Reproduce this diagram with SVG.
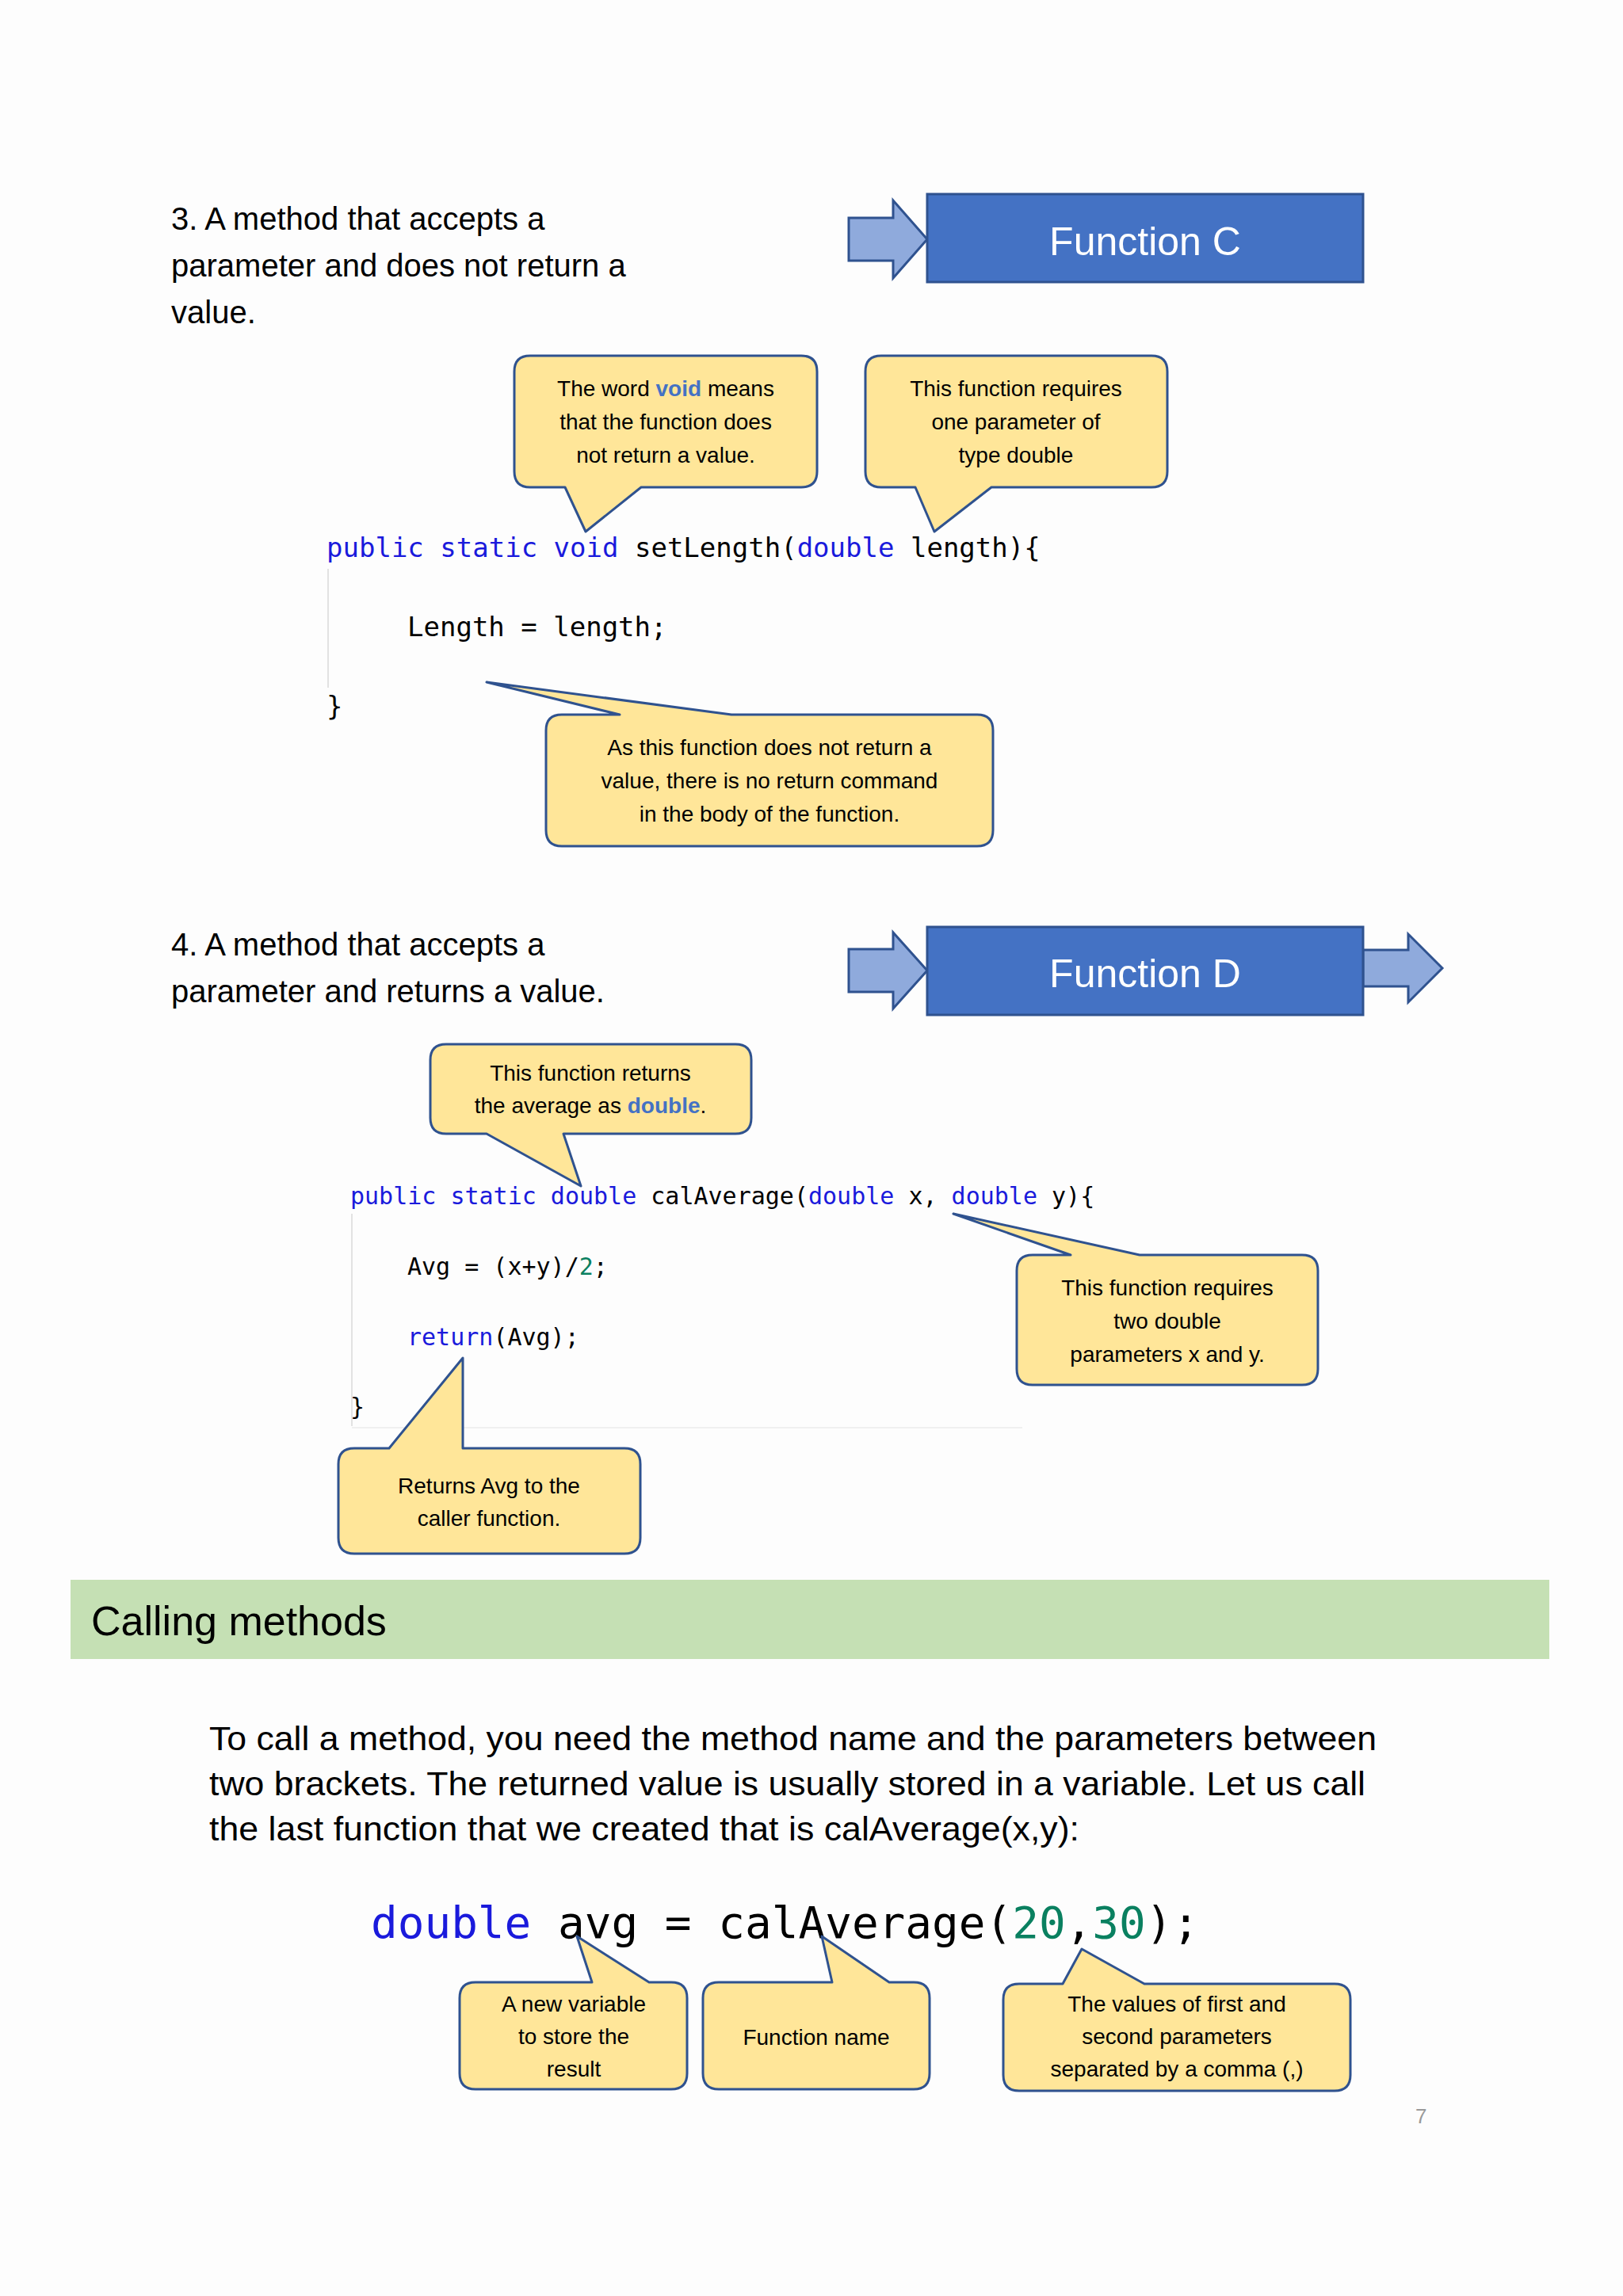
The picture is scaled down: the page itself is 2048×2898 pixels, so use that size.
<svg xmlns="http://www.w3.org/2000/svg" width="2048" height="2898" viewBox="0 0 2048 2898">
<style>
.t{font-family:"Liberation Sans",Arial,sans-serif;fill:#000}
.h{font-size:40px}
.c{font-size:28px;text-anchor:middle}
.code{font-family:"DejaVu Sans Mono","Liberation Mono",monospace;fill:#000}
.kw{fill:#1a1adc}
.num{fill:#0a8060}
.vb{fill:#4472c4;font-weight:bold}
.co{fill:#ffe699;stroke:#2f528f;stroke-width:3;stroke-linejoin:round}
.fb{fill:#4472c4;stroke:#2f528f;stroke-width:3}
.ar{fill:#8faadc;stroke:#2f528f;stroke-width:3;stroke-linejoin:miter}
.ft{font-family:"Liberation Sans",Arial,sans-serif;font-size:50px;fill:#fff;text-anchor:middle}
</style>
<rect width="2048" height="2898" fill="#fdfdfd"/>

<g id="heading3">
<text class="t h" x="216" y="290">3. A method that accepts a</text>
<text class="t h" x="216" y="349">parameter and does not return a</text>
<text class="t h" x="216" y="408">value.</text>
</g>

<g id="connectors">
<path class="ar" d="M1071 275 H1127 V253 L1170 302 L1127 351 V329 H1071 Z"/>
<path class="ar" d="M1071 1198 H1127 V1177 L1170 1225 L1127 1273 V1252 H1071 Z"/>
<path class="ar" d="M1720 1199 H1777 V1179 L1820 1222 L1777 1265 V1245 H1720 Z"/>
</g>

<g id="functionC">
<rect class="fb" x="1170" y="245" width="550" height="111"/>
<text class="ft" x="1445" y="322">Function C</text>
</g>

<g id="callout-void">
<path class="co" d="M669 449 H1011 Q1031 449 1031 469 V595 Q1031 615 1011 615 H809 L739 671 L713 615 H669 Q649 615 649 595 V469 Q649 449 669 449 Z"/>
<text class="t c" x="840" y="500">The word <tspan class="vb">void</tspan> means</text>
<text class="t c" x="840" y="542">that the function does</text>
<text class="t c" x="840" y="584">not return a value.</text>
</g>

<g id="callout-param">
<path class="co" d="M1112 449 H1453 Q1473 449 1473 469 V595 Q1473 615 1453 615 H1251 L1179 671 L1155 615 H1112 Q1092 615 1092 595 V469 Q1092 449 1112 449 Z"/>
<text class="t c" x="1282" y="500">This function requires</text>
<text class="t c" x="1282" y="542">one parameter of</text>
<text class="t c" x="1282" y="584">type double</text>
</g>

<g id="code3">
<line x1="414" y1="718" x2="414" y2="868" stroke="#e2e2e2" stroke-width="2"/>
<text class="code" font-size="34" x="412" y="703"><tspan class="kw">public static void</tspan> setLength(<tspan class="kw">double</tspan> length){</text>
<text class="code" font-size="34" x="514" y="803">Length = length;</text>
<text class="code" font-size="34" x="412" y="903">}</text>
</g>

<g id="callout-noreturn">
<path class="co" d="M709 902 H782 L614 861 L923 902 H1233 Q1253 902 1253 922 V1048 Q1253 1068 1233 1068 H709 Q689 1068 689 1048 V922 Q689 902 709 902 Z"/>
<text class="t c" x="971" y="953">As this function does not return a</text>
<text class="t c" x="971" y="995">value, there is no return command</text>
<text class="t c" x="971" y="1037">in the body of the function.</text>
</g>

<g id="heading4">
<text class="t h" x="216" y="1206">4. A method that accepts a</text>
<text class="t h" x="216" y="1265">parameter and returns a value.</text>
</g>

<g id="functionD">
<rect class="fb" x="1170" y="1170" width="550" height="111"/>
<text class="ft" x="1445" y="1246">Function D</text>
</g>

<g id="callout-returns-double">
<path class="co" d="M563 1318 H928 Q948 1318 948 1338 V1411 Q948 1431 928 1431 H711 L733 1497 L614 1431 H563 Q543 1431 543 1411 V1338 Q543 1318 563 1318 Z"/>
<text class="t c" x="745" y="1364">This function returns</text>
<text class="t c" x="745" y="1405">the average as <tspan class="vb">double</tspan>.</text>
</g>

<g id="code4">
<line x1="444" y1="1532" x2="444" y2="1800" stroke="#e2e2e2" stroke-width="2"/>
<line x1="444" y1="1802" x2="1290" y2="1802" stroke="#f0f0f0" stroke-width="2"/>
<text class="code" font-size="30" x="442" y="1520"><tspan class="kw">public static double</tspan> calAverage(<tspan class="kw">double</tspan> x, <tspan class="kw">double</tspan> y){</text>
<text class="code" font-size="30" x="514" y="1609">Avg = (x+y)/<tspan class="num">2</tspan>;</text>
<text class="code" font-size="30" x="514" y="1698"><tspan class="kw">return</tspan>(Avg);</text>
<text class="code" font-size="30" x="442" y="1786">}</text>
</g>

<g id="callout-two-params">
<path class="co" d="M1303 1584 H1351 L1203 1532 L1438 1584 H1643 Q1663 1584 1663 1604 V1728 Q1663 1748 1643 1748 H1303 Q1283 1748 1283 1728 V1604 Q1283 1584 1303 1584 Z"/>
<text class="t c" x="1473" y="1635">This function requires</text>
<text class="t c" x="1473" y="1677">two double</text>
<text class="t c" x="1473" y="1719">parameters x and y.</text>
</g>

<g id="callout-return-avg">
<path class="co" d="M447 1828 H491 L584 1714 V1828 H788 Q808 1828 808 1848 V1941 Q808 1961 788 1961 H447 Q427 1961 427 1941 V1848 Q427 1828 447 1828 Z"/>
<text class="t c" x="617" y="1885">Returns Avg to the</text>
<text class="t c" x="617" y="1926">caller function.</text>
</g>

<g id="calling-header">
<rect x="89" y="1994" width="1866" height="100" fill="#c5e0b4"/>
<text class="t" font-size="52" x="115" y="2064">Calling methods</text>
</g>

<g id="paragraph">
<text class="t" font-size="42" x="264" y="2209" textLength="1473" lengthAdjust="spacingAndGlyphs">To call a method, you need the method name and the parameters between</text>
<text class="t" font-size="42" x="264" y="2266" textLength="1459" lengthAdjust="spacingAndGlyphs">two brackets.  The returned value is usually stored in a variable.  Let us call</text>
<text class="t" font-size="42" x="264" y="2323" textLength="1098" lengthAdjust="spacingAndGlyphs">the last function that we created that is calAverage(x,y):</text>
</g>

<g id="call-code">
<text class="code" font-size="56" x="468" y="2446"><tspan class="kw">double</tspan> avg = calAverage(<tspan class="num">20</tspan>,<tspan class="num">30</tspan>);</text>
</g>

<g id="callout-variable">
<path class="co" d="M600 2502 H747 L728 2444 L819 2502 H847 Q867 2502 867 2522 V2617 Q867 2637 847 2637 H600 Q580 2637 580 2617 V2522 Q580 2502 600 2502 Z"/>
<text class="t c" x="724" y="2539">A new variable</text>
<text class="t c" x="724" y="2580">to store the</text>
<text class="t c" x="724" y="2621">result</text>
</g>

<g id="callout-fname">
<path class="co" d="M907 2502 H1050 L1037 2444 L1122 2502 H1153 Q1173 2502 1173 2522 V2617 Q1173 2637 1153 2637 H907 Q887 2637 887 2617 V2522 Q887 2502 907 2502 Z"/>
<text class="t c" x="1030" y="2581">Function name</text>
</g>

<g id="callout-values">
<path class="co" d="M1286 2504 H1341 L1365 2460 L1444 2504 H1684 Q1704 2504 1704 2524 V2619 Q1704 2639 1684 2639 H1286 Q1266 2639 1266 2619 V2524 Q1266 2504 1286 2504 Z"/>
<text class="t c" x="1485" y="2539">The values of first and</text>
<text class="t c" x="1485" y="2580">second parameters</text>
<text class="t c" x="1485" y="2621">separated by a comma (,)</text>
</g>

<text class="t" font-size="26" x="1786" y="2680" fill="#999" style="fill:#999">7</text>
</svg>
